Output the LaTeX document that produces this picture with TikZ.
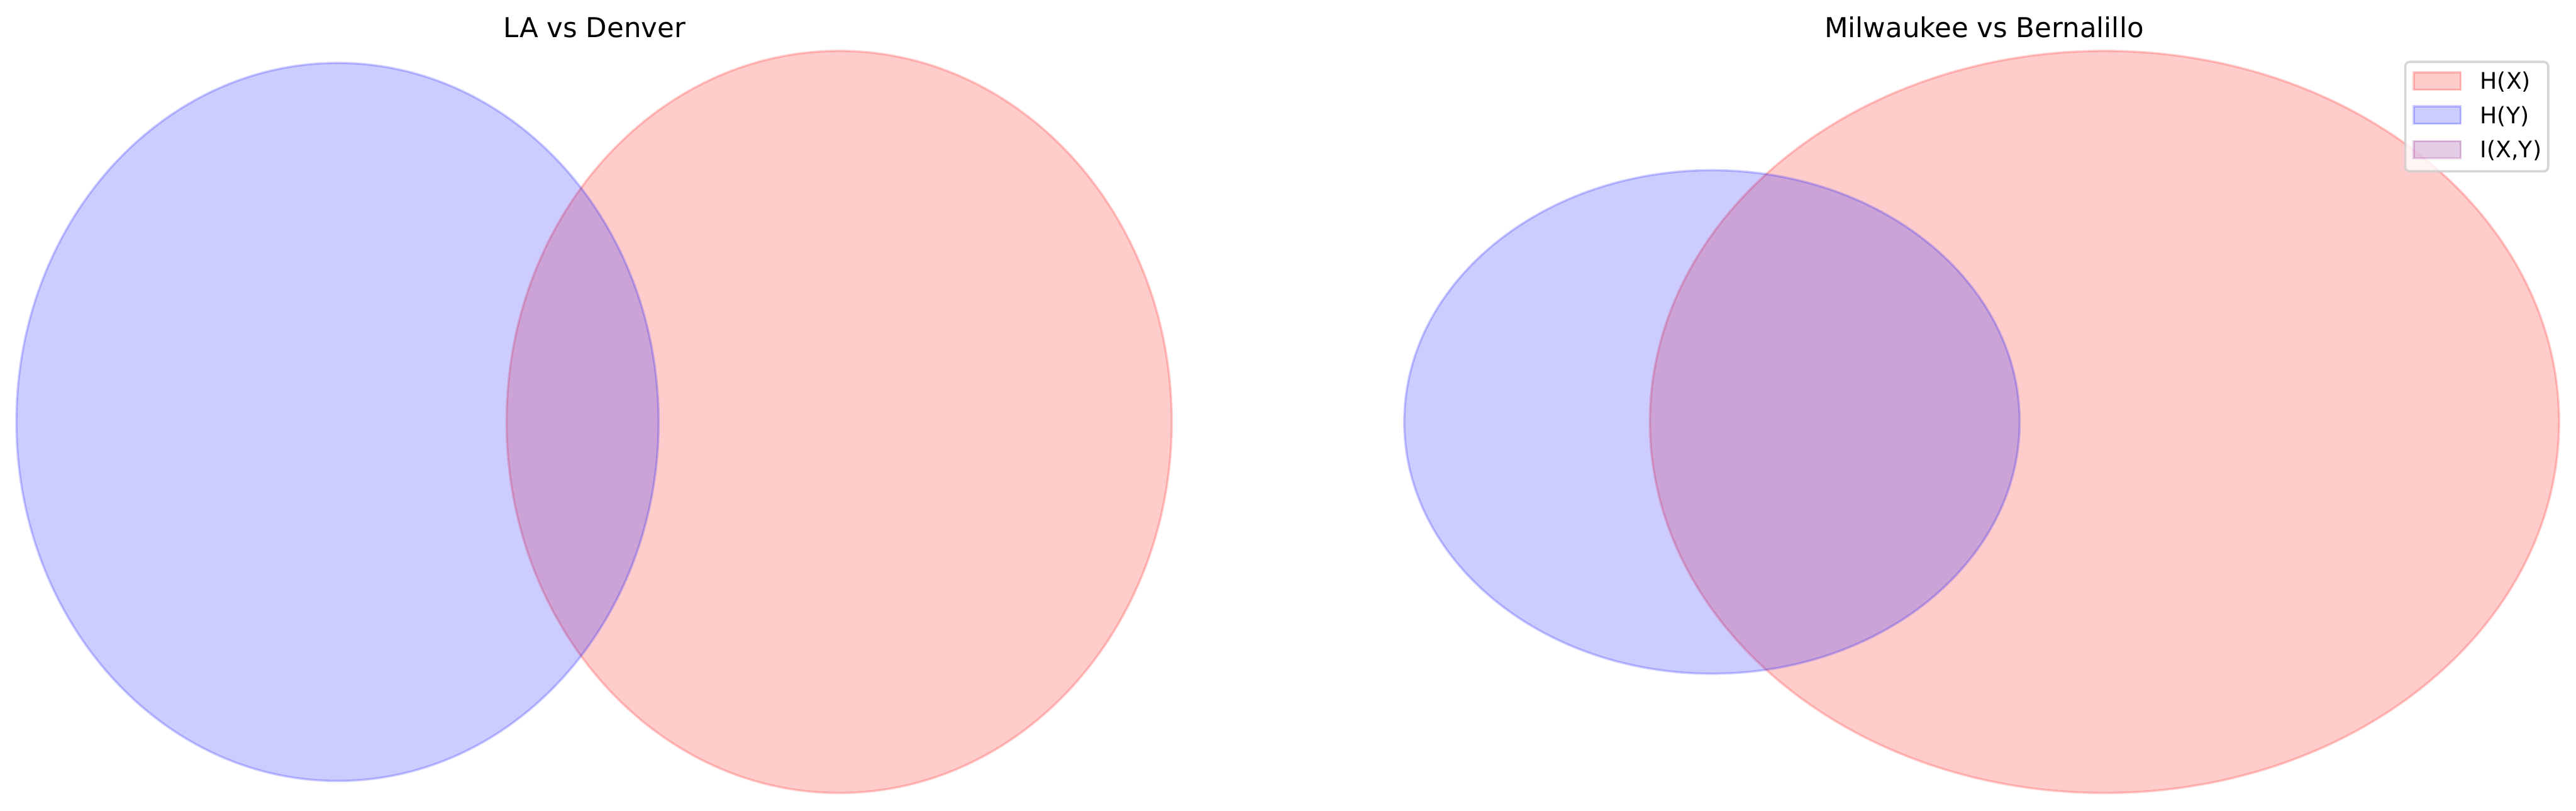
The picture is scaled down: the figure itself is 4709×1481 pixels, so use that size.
\documentclass[tikz,border=0pt]{standalone}
\usepackage{fontspec}
\setmainfont{DejaVu Sans}
\begin{document}
\begin{tikzpicture}[x=0.24pt,y=-0.24pt,
  setx/.style={fill=red,draw=red,fill opacity=0.2,draw opacity=0.2,line width=1pt},
  sety/.style={fill=blue,draw=blue,fill opacity=0.2,draw opacity=0.2,line width=1pt},
  setxy/.style={fill=purple!100!black,draw=purple,fill opacity=0.2,draw opacity=0.2,line width=1pt},
  titletext/.style={anchor=base,inner sep=0pt,font=\fontsize{12}{14}\selectfont},
  legtext/.style={anchor=base west,inner sep=0pt,font=\fontsize{10}{12}\selectfont}]
\definecolor{purple}{RGB}{128,0,128}
\definecolor{legframe}{RGB}{204,204,204}
\useasboundingbox (0,0) rectangle (4709,1481);
% left panel
\path[setx] (1534,771) ellipse [x radius=608, y radius=678];
\path[sety] (617,771) ellipse [x radius=587, y radius=656];
\node[titletext] (t1) at (1087,68) {LA vs Denver};
% right panel
\path[setx] (3847,771) ellipse [x radius=831, y radius=678];
\path[sety] (3129.5,771) ellipse [x radius=562.5, y radius=460];
\node[titletext] (t2) at (3627,68) {Milwaukee vs Bernalillo};
% legend
\path[fill=white,fill opacity=0.8,draw=legframe,draw opacity=0.8,line width=1pt,rounded corners=1.9pt] (4397,113) rectangle (4658,313);
\path[setx] (4412,132) rectangle (4498,164);
\path[sety] (4412,194) rectangle (4498,226);
\path[setxy] (4412,258) rectangle (4498,289);
\node[legtext] (l1) at (4533,163) {H(X)};
\node[legtext] (l2) at (4533,226) {H(Y)};
\node[legtext] (l3) at (4533,288) {I(X,Y)};
\end{tikzpicture}
\end{document}
